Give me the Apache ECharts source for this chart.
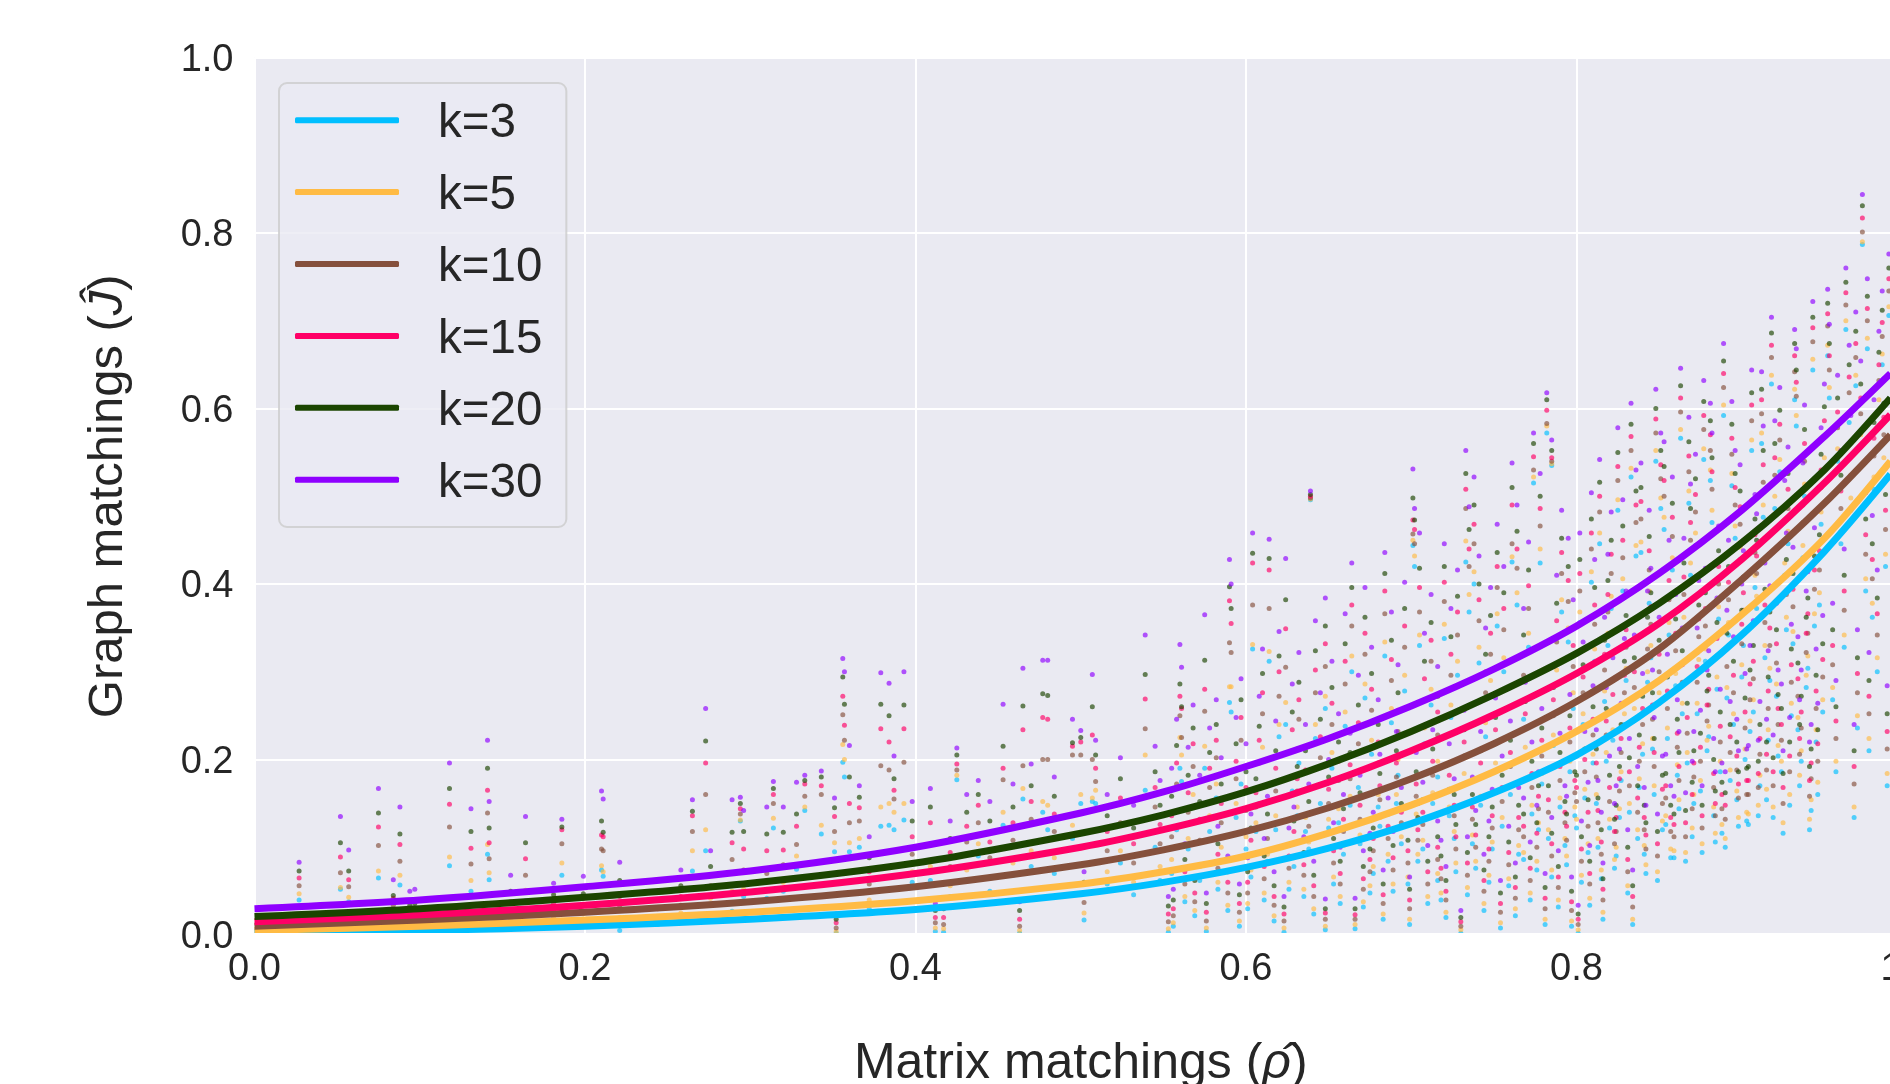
<!DOCTYPE html>
<html><head><meta charset="utf-8">
<style>html,body{margin:0;padding:0;background:#fff}#c{width:1890px;height:1084px}</style>
<script src="https://cdn.jsdelivr.net/npm/echarts@6/dist/echarts.min.js"></script>
</head><body><div id="c"></div>
<script>
const kNames = ['k=3','k=5','k=10','k=15','k=20','k=30'];
const kColors = ['#00BFFF','#FFBB44','#85503C','#FF0066','#1B4500','#8F00FF'];
const xTicks = [0,0.2,0.4,0.6,0.8,1];
const curveX = [0,0.1,0.2,0.3,0.4,0.5,0.55,0.6,0.65,0.7,0.75,0.8,0.85,0.9,0.95,0.99];
const curveK3 = [.003,.005,.010,.018,.029,.047,.060,.077,.099,.127,.162,.205,.265,.342,.437,.525];
const curveK5 = [.005,.010,.017,.026,.039,.058,.072,.090,.116,.148,.186,.232,.290,.365,.452,.540];
const curveK10 = [.010,.017,.026,.038,.055,.080,.097,.118,.145,.178,.218,.266,.326,.405,.492,.570];
const curveK15 = [.015,.023,.034,.049,.070,.100,.120,.144,.174,.210,.251,.298,.355,.428,.515,.593];
const curveK20 = [.021,.030,.043,.059,.082,.116,.137,.163,.195,.232,.274,.321,.378,.447,.530,.612];
const curveK30 = [.030,.040,.055,.073,.100,.139,.163,.192,.224,.261,.303,.352,.412,.484,.568,.640];
// each row, in thousandths: x, then y for k=3,5,10,15,20,30
const pointsLeft = [
[27,40,47,56,65,73,83],[52,52,54,71,89,105,135],[57,38,43,55,63,73,97],[75,65,73,102,123,139,167],
[84,18,25,34,42,45,63],[88,57,68,84,103,115,146],[94,8,14,20,26,34,50],[97,10,16,22,28,36,52],
[118,79,89,123,149,167,196],[131,50,62,81,99,118,144],[141,92,103,139,165,190,222],[142,63,71,87,105,122,152],
[155,12,18,28,38,50,68],[164,39,51,68,87,105,135],[181,14,20,28,36,46,59],[186,68,82,104,120,123,132],
[199,16,24,34,42,47,67],[210,74,79,98,114,130,164],[211,67,72,96,112,117,155],[221,5,20,32,44,62,83],
[244,12,20,30,40,50,62],[258,18,25,34,44,56,74],[265,73,96,118,136,141,154],[273,96,120,160,196,221,258],
[276,35,42,56,68,78,96],[289,27,50,86,105,117,154],[294,130,131,138,144,150,157],[296,44,52,74,98,118,142]
];
const pointsMid = [
[310,42,52,70,96,115,146],[314,122,133,150,160,167,175],[320,50,60,80,97,117,146],[328,75,90,103,124,138,174],
[333,142,146,158,172,176,182],[343,115,125,160,170,180,187],[351,95,105,118,135,145,156],[352,2,4,8,14,18,24],
[356,197,217,251,272,294,315],[357,180,200,222,239,263,300],[360,95,105,128,150,180,216],[366,100,110,130,145,157,170],
[372,30,40,58,72,88,112],[379,124,146,193,235,263,299],[384,125,150,188,220,250,287],[387,120,140,155,165,178,204],
[393,131,150,197,235,262,300],[398,60,72,92,112,130,152],[409,62,78,104,128,146,167],[412,4,8,14,20,28,36],
[417,3,7,12,20,30,42],[421,44,56,78,94,110,130],[425,177,182,188,195,205,213],[431,62,74,106,124,140,160],
[438,90,104,128,148,160,176],[445,50,66,88,106,130,152],[453,125,140,177,190,215,263],[459,68,82,108,128,146,172],
[463,2,5,10,18,28,38],[465,155,167,193,234,261,304],[470,78,96,132,152,170,195],[477,140,152,200,248,275,313],
[480,120,148,200,246,273,313],[484,70,88,118,138,158,180],[495,110,125,205,215,219,246],[500,150,160,205,220,225,233],
[502,17,25,37,48,60,72],[507,152,156,200,228,260,297],[509,150,165,175,190,205,222],[516,58,72,96,118,136,160],
[524,82,96,128,156,178,202],[532,46,60,82,104,122,148],[539,165,205,235,269,297,342],[545,100,118,146,168,186,215],
[548,62,78,104,126,148,176],[553,3,7,15,24,33,44]
];
const pointsUpper = [
[555,70,86,112,136,158,190],[558,120,142,172,196,216,246],[560,190,225,250,272,286,331],[561,175,205,225,258,260,305],
[565,98,110,140,162,182,214],[568,146,160,192,218,236,262],[572,62,78,108,132,152,182],[575,190,215,255,280,313,365],
[578,118,136,168,190,208,236],[582,156,172,202,222,240,268],[585,84,100,128,150,172,202],[590,265,283,333,381,397,428],
[591,254,283,322,355,372,400],[594,134,150,178,198,218,248],[597,172,190,222,248,268,292],[600,98,112,142,168,186,218],
[604,326,331,376,424,435,458],[608,150,168,196,222,238,272],[610,198,214,252,276,298,326],[614,312,323,372,416,429,451],
[618,120,136,164,190,210,244],[620,226,240,272,300,318,346],[624,240,265,305,349,382,429],[628,164,180,210,234,254,286],
[632,196,212,246,268,288,322],[636,118,134,166,188,210,240],[639,496,497,498,500,502,506],[642,224,240,276,302,324,358],
[645,150,170,202,226,246,276],[648,258,272,306,332,352,384],[652,190,208,240,264,282,312],[656,128,144,176,198,220,252],
[660,238,254,286,312,332,366],[664,300,318,352,376,396,424],[668,168,186,218,242,262,296],[672,270,286,320,344,362,396],
[676,206,222,256,280,298,328],[680,146,160,196,220,240,268],[684,318,334,366,392,412,436],[688,242,258,290,314,336,368],
[692,182,200,232,256,276,308],[696,278,296,328,352,372,402],[701,444,450,457,473,498,531],[702,420,432,446,462,473,486],
[705,330,342,368,396,418,458],[708,218,236,268,292,312,344],[712,262,280,312,336,356,388],[716,180,198,228,254,272,306],
[720,338,354,380,402,420,446],[724,248,262,296,320,340,372],[728,296,312,342,368,386,416],[733,425,449,486,508,526,552],
[735,368,388,420,440,462,488],[738,400,414,446,468,490,522],[741,310,328,358,382,400,432],[745,226,242,276,300,320,350],
[748,272,290,320,344,364,396],[752,352,366,396,420,436,468],[756,300,316,348,372,390,420],[761,425,431,446,490,510,538],
[764,376,390,418,440,460,490],[768,246,266,296,320,342,372],[771,328,344,372,398,416,448],[774,515,522,530,545,560,572],
[778,424,440,466,486,500,526],[782,572,580,583,598,610,618],[785,535,537,540,544,552,564],[788,286,302,334,358,378,410],
[791,368,382,412,436,452,484],[795,334,350,380,404,420,452],[798,258,276,306,330,350,382]
];
const pointsLower = [
[556,10,14,22,30,40,52],[563,38,44,58,72,86,104],[569,22,28,38,48,62,78],[576,4,8,16,26,36,48],
[583,52,60,76,92,104,124],[589,28,34,48,60,72,90],[596,10,16,26,36,46,58],[603,66,74,92,108,122,138],
[611,40,48,64,78,90,110],[617,16,22,34,44,56,72],[623,3,8,16,24,32,44],[629,78,88,104,118,130,146],
[635,44,52,68,80,94,112],[641,24,30,44,56,68,84],[648,6,10,18,25,30,41],[653,58,66,82,96,110,128],
[659,92,102,118,132,144,160],[666,7,12,18,23,30,42],[671,32,38,52,64,78,96],[677,70,78,96,110,122,140],
[683,18,24,36,46,58,74],[689,50,58,74,88,102,118],[694,104,112,128,140,150,168],[699,12,18,30,40,52,66],
[704,84,92,108,120,134,150],[710,36,44,58,72,84,102],[716,62,70,86,100,112,130],[721,20,26,40,50,62,78],
[726,110,118,136,148,160,178],[730,2,6,10,15,20,28],[734,46,54,68,82,94,112],[739,76,84,100,114,126,142],
[744,28,36,50,62,74,92],[749,98,106,122,136,146,166],[754,8,14,26,36,48,62],[759,56,64,80,94,106,124],
[763,22,30,42,54,66,82],[768,86,94,112,124,138,156],[772,40,48,62,76,88,106],[777,120,128,144,158,170,186],
[781,12,18,30,42,54,70],[785,66,74,90,104,116,134],[789,32,40,54,66,78,96],[793,102,110,128,140,152,170],
[797,10,16,28,38,50,66],[799,136,146,162,176,186,204],[801,2,6,12,18,24,34]
];
const pointsRight = [
[803,60,68,84,98,112,130],[805,156,166,186,200,212,232],[808,34,42,58,70,84,102],[811,312,326,354,376,396,428],
[813,100,110,128,142,156,176],[816,18,26,40,52,64,82],[818,198,208,228,244,258,282],[821,372,386,412,434,450,482],
[823,76,86,104,118,132,150],[826,134,144,164,178,192,212],[829,240,252,276,296,312,338],[831,48,56,72,86,100,120],
[834,12,18,32,44,56,74],[836,432,444,470,490,506,530],[838,168,178,198,214,228,250],[841,92,102,120,134,148,168],
[843,288,300,326,346,362,392],[846,212,224,246,262,276,302],[849,62,72,90,104,118,138],[851,486,498,520,536,552,572],
[854,126,136,156,170,184,206],[856,342,356,382,404,420,450],[859,88,96,112,126,138,158],[861,182,194,214,230,246,268],
[864,252,264,288,308,324,350],[866,84,94,112,128,142,162],[869,410,424,450,470,486,514],[871,150,160,180,196,210,232],
[874,300,314,340,360,376,404],[876,94,104,122,136,148,170],[879,210,222,244,262,278,302],[881,518,530,552,570,586,606],
[884,106,116,136,150,164,186],[886,360,374,400,420,438,466],[888,116,126,144,160,174,196],[891,270,282,306,326,344,370],
[893,176,188,208,226,240,266],[896,452,466,490,510,526,552],[898,124,134,156,172,186,210],[901,330,344,370,390,408,438],
[903,130,140,160,176,190,212],[905,232,244,268,286,302,330],[908,396,410,436,456,474,502],[910,136,148,168,184,198,222],
[912,560,572,594,610,622,642],[915,154,166,188,206,220,246],[917,290,304,330,350,368,398],[920,486,500,524,544,560,586],
[922,204,216,240,258,274,302],[925,116,128,150,168,184,210],[927,348,362,388,410,428,458],[930,250,264,288,308,326,354],
[932,610,622,642,660,674,690],[935,170,182,206,224,240,268],[937,430,444,470,490,508,538],[940,304,318,344,366,384,414],
[942,142,154,178,196,212,240],[945,220,234,258,278,296,326],[947,376,390,416,438,456,486],[950,530,544,568,586,602,628],
[952,660,672,694,708,720,736],[955,268,282,308,330,348,378],[957,186,198,224,244,260,290],[960,446,460,486,506,524,552],
[962,328,342,370,392,410,440],[965,584,596,618,636,650,672],[968,134,146,172,192,210,240],[970,236,250,276,298,316,348],
[973,787,790,801,817,831,844],[975,392,406,434,456,474,504],[977,210,224,252,272,290,322],[980,508,522,546,566,584,610],
[982,300,316,342,366,384,416],[985,650,662,682,698,712,734],[987,420,434,462,484,502,532],[988,170,184,212,232,252,284]
];
const pointsDense = [
[601,30,36,48,60,72,88],[606,118,128,146,162,178,196],[613,84,92,110,124,138,158],[626,52,60,76,90,102,122],
[631,136,146,164,178,192,212],[638,98,106,124,138,152,172],[650,122,132,150,166,180,200],[657,36,44,58,70,84,100],
[663,148,158,178,194,208,230],[669,104,114,132,148,162,182],[675,48,56,72,86,98,116],[681,124,134,154,170,184,206],
[686,84,92,110,124,138,156],[691,150,160,180,196,210,232],[698,58,66,82,96,108,126],[703,128,138,158,172,186,208],
[707,98,108,126,140,154,174],[713,150,162,182,198,212,234],[718,40,48,64,76,90,108],[723,136,146,166,182,196,218],
[727,72,82,98,112,126,146],[732,172,184,204,220,234,256],[737,104,114,132,146,160,180],[742,148,158,180,196,210,232],
[747,60,68,84,98,112,130],[751,186,196,218,234,248,270],[755,124,134,152,168,182,204],[760,160,170,192,208,222,244],
[765,92,102,120,134,148,168],[769,202,214,236,252,266,288],[773,138,148,168,184,198,220],[776,74,84,100,116,128,148],
[779,172,184,204,222,236,258],[783,110,120,140,154,170,190],[786,216,228,250,268,282,306],[790,146,156,176,192,208,230],
[794,80,90,108,124,138,158],[796,186,198,220,236,250,274],[800,122,132,152,168,182,204],[804,240,252,276,294,308,334],
[807,94,104,124,140,154,174],[810,196,206,228,246,260,284],[812,150,160,180,196,212,234],[815,64,74,92,106,120,140],
[817,266,278,302,320,336,362],[820,122,132,152,168,182,204],[822,222,234,256,274,290,316],[824,90,100,118,134,148,170],
[827,176,186,208,224,240,264],[830,290,304,328,348,364,392],[832,140,150,170,186,202,224],[835,246,258,282,300,316,342],
[837,110,120,140,156,170,192],[840,206,218,240,258,272,298],[842,70,80,98,114,128,148],[845,316,330,354,374,390,418],
[847,160,170,192,208,224,248],[850,264,276,300,320,336,362],[852,120,130,150,166,182,204],[855,224,236,258,278,294,320],
[857,88,98,118,134,148,170],[860,284,298,324,344,360,388],[862,144,154,176,192,208,232],[865,348,362,388,408,424,452],
[867,196,208,230,248,264,290],[870,112,122,144,160,174,198],[873,252,264,288,306,322,350],[875,164,176,198,214,230,256],
[878,312,326,352,372,390,418],[880,226,238,262,280,296,324],[883,136,146,168,184,200,224],[885,280,294,318,338,356,384],
[887,186,198,220,238,254,280],[890,100,110,132,148,162,186],[892,342,356,382,402,420,450],[895,240,252,276,296,312,340],
[897,154,164,188,204,220,246],[900,294,308,332,354,370,400],[902,200,212,236,254,270,298],[904,126,138,160,176,192,216],
[907,254,268,292,312,330,358],[909,372,386,412,432,450,480],[911,170,182,206,224,240,266],[914,316,330,356,376,394,424],
[916,222,234,258,278,294,324],[919,134,146,170,186,202,228],[921,272,286,310,332,348,378],[924,186,198,222,240,258,286],
[926,410,424,450,472,488,518],[929,148,160,186,204,220,248],[931,332,346,374,394,412,442],[934,234,248,272,292,310,340],
[936,198,210,236,254,272,302],[939,282,296,322,344,362,392],[941,120,132,158,176,192,220],[944,352,366,394,416,432,464],
[946,160,174,198,218,234,264],[949,254,268,294,314,332,364]
];
const pointsUpperRight = [
[802,356,368,392,412,428,458],[809,402,414,440,458,474,504],[814,446,458,482,500,516,542],[819,330,344,368,388,404,434],
[825,484,496,518,534,550,578],[828,392,406,430,450,466,496],[833,522,532,552,568,582,606],[839,436,448,474,494,510,538],
[844,378,392,416,438,454,484],[848,540,552,572,588,600,622],[853,462,476,500,518,534,562],[858,416,430,454,476,492,522],
[863,566,576,596,612,626,646],[868,492,506,528,546,562,590],[872,444,458,482,502,520,548],[877,542,554,576,592,608,632],
[882,470,484,508,528,544,572],[889,592,604,624,640,654,674],[894,512,526,548,566,582,608],[899,428,442,468,488,506,536],
[906,552,564,586,604,618,644],[913,476,490,516,536,552,580],[918,628,638,658,672,686,704],[923,528,542,564,582,598,624],
[928,446,460,486,508,526,556],[933,580,592,614,630,644,668],[938,500,514,540,560,576,604],[943,644,656,676,692,704,722],
[948,468,482,510,530,548,578],[953,612,624,644,660,674,696],[958,540,554,578,596,612,638],[963,690,700,718,732,744,760],
[966,484,498,524,546,562,592],[969,626,638,658,674,688,710],[972,556,570,594,612,628,654],[976,668,680,700,714,728,748],
[979,362,378,406,428,446,478],[983,596,610,632,650,664,688],[986,530,544,570,590,606,634],[989,706,716,734,748,760,776]
];
const allPoints = pointsLeft.concat(pointsMid, pointsUpper, pointsLower, pointsRight, pointsDense, pointsUpperRight);
const curves = [curveK3,curveK5,curveK10,curveK15,curveK20,curveK30];

const scatterSeries = kNames.map((n,i)=>({
  name:n+' points', type:'scatter', symbol:'circle', symbolSize:5, z:2, silent:true,
  itemStyle:{color:kColors[i],opacity:.66},
  data:allPoints.map(r=>[r[0]/1000,r[i+1]/1000])
}));
const lineSeries = kNames.map((n,i)=>({
  name:n, type:'line', smooth:.3, showSymbol:false, symbol:'none', z:3, silent:true,
  lineStyle:{color:kColors[i],width:7}, itemStyle:{color:kColors[i]},
  data:curveX.map((x,j)=>[x,curves[i][j]])
}));
const chart = echarts.init(document.getElementById('c'),null,{renderer:'canvas'});
chart.setOption({
  animation:false,
  textStyle:{fontFamily:'"Liberation Sans",Arial,sans-serif',color:'#262626'},
  grid:{left:254.5,top:57.5,width:1652.5,height:877.5,show:true,backgroundColor:'#EAEAF2',borderWidth:0,containLabel:false,outerBoundsMode:'none'},
  xAxis:{type:'value',min:0,max:1,interval:.2,
    name:'{a|Matrix matchings (}{i|ρ̂}{a|)}',nameLocation:'middle',nameGap:104,
    nameTextStyle:{rich:{a:{fontSize:50,color:'#262626',fontFamily:'"Liberation Sans"'},i:{fontSize:50,fontStyle:'italic',color:'#262626',fontFamily:'"Liberation Sans"'}}},
    axisLine:{show:false},axisTick:{show:false},
    axisLabel:{fontSize:38,color:'#262626',margin:16,formatter:v=>v.toFixed(1)},
    splitLine:{show:true,lineStyle:{color:'#ffffff',width:2}}},
  yAxis:{type:'value',min:0,max:1,interval:.2,
    name:'{a|Graph matchings (}{i|Ĵ}{a|)}',nameLocation:'middle',nameGap:122,nameRotate:90,
    nameTextStyle:{rich:{a:{fontSize:49,color:'#262626',fontFamily:'"Liberation Sans"'},i:{fontSize:49,fontStyle:'italic',color:'#262626',fontFamily:'"Liberation Sans"'}}},
    axisLine:{show:false},axisTick:{show:false},
    axisLabel:{fontSize:38,color:'#262626',margin:21,verticalAlign:'top',lineHeight:6,formatter:v=>v.toFixed(1)},
    splitLine:{show:true,lineStyle:{color:'#ffffff',width:2}}},
  legend:{show:true,left:279,top:83,orient:'vertical',data:kNames,
    itemWidth:104,itemHeight:6,itemGap:15.9,icon:'roundRect',
    padding:[9.2,24,19.3,16],backgroundColor:'rgba(234,234,242,0.8)',borderColor:'rgba(204,204,204,0.8)',borderWidth:2,borderRadius:8,
    formatter:n=>'{a|'+n+'}',
    textStyle:{rich:{a:{fontSize:47.5,lineHeight:46,color:'#262626',padding:[8,0,0,34],fontFamily:'"Liberation Sans"'}}}},
  graphic:[{type:'rect',silent:true,z:100,shape:{x:254,y:933,width:1640,height:6},style:{fill:'#ffffff'}}],
  series:scatterSeries.concat(lineSeries)
});
</script></body></html>
